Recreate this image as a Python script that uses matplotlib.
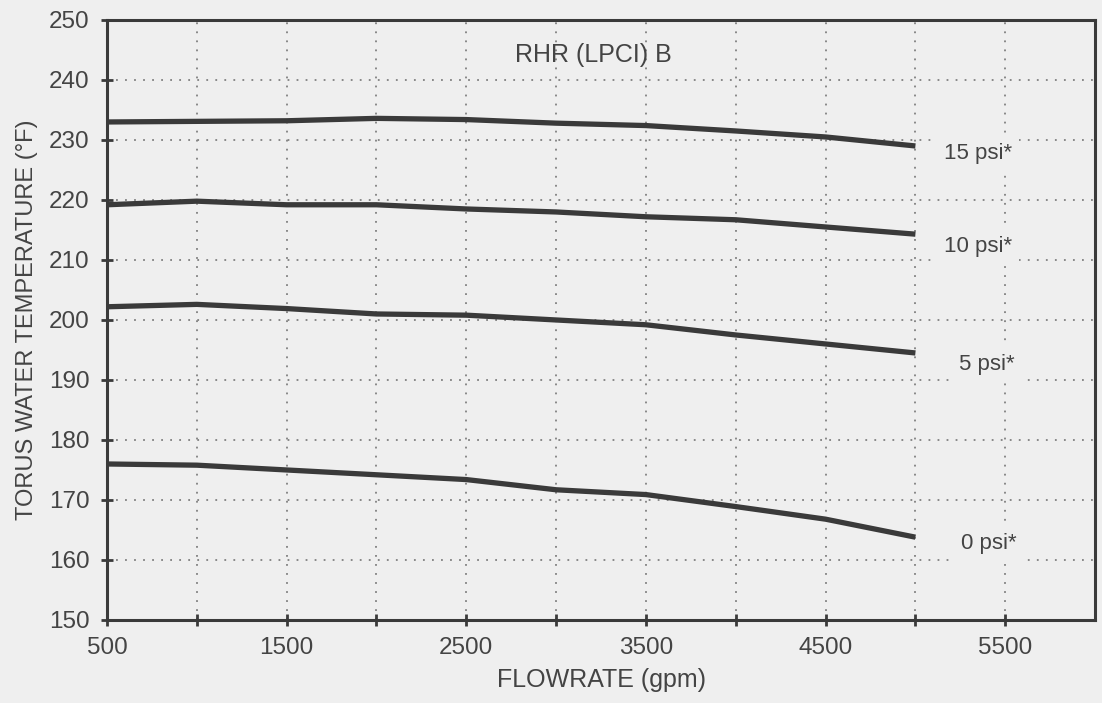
import matplotlib
matplotlib.use("Agg")
import matplotlib.pyplot as plt

# flowrate (gpm) and torus water temperature (F)
flow = [500, 1000, 1500, 2000, 2500, 3000, 3500, 4000, 4500, 5000]
temp_15psi = [233.0, 233.1, 233.2, 233.6, 233.4, 232.8, 232.4, 231.5, 230.5, 229.0]
temp_10psi = [219.2, 219.8, 219.2, 219.2, 218.5, 218.0, 217.2, 216.7, 215.5, 214.3]
temp_5psi = [202.2, 202.6, 201.9, 201.0, 200.8, 200.0, 199.2, 197.5, 196.0, 194.5]
temp_0psi = [176.0, 175.8, 175.0, 174.2, 173.4, 171.7, 170.9, 168.9, 166.8, 163.8]

series = [temp_15psi, temp_10psi, temp_5psi, temp_0psi]
labels = ["15 psi*", "10 psi*", "5 psi*", "0 psi*"]
label_x = [5160, 5160, 5240, 5255]
label_y = [227.8, 212.2, 192.6, 162.8]

xticks = [500, 1000, 1500, 2000, 2500, 3000, 3500, 4000, 4500, 5000, 5500]
xticklabels = ["500", "", "1500", "", "2500", "", "3500", "", "4500", "", "5500"]
yticks = list(range(150, 251, 10))

bg = "#efefef"
ink = "#3a3a3a"
txt = "#444444"

plt.rcParams["font.family"] = ["Liberation Sans", "DejaVu Sans"]

fig = plt.figure(figsize=(11.02, 7.03), dpi=100, facecolor=bg)
ax = fig.add_axes([0.0971, 0.1181, 0.8966, 0.8535], facecolor=bg)

for vals in series:
    ax.plot(flow, vals, color=ink, linewidth=3.8, solid_capstyle="butt")

# curve labels sit on a patch of background, breaking the grid like the original
for lab, lx, ly in zip(labels, label_x, label_y):
    ax.text(lx, ly, lab, fontsize=16, color=txt, ha="left", va="center",
            bbox=dict(facecolor=bg, edgecolor="none", pad=5))

ax.text(3207, 244.2, "RHR (LPCI) B", fontsize=18, color=txt, ha="center", va="center")

ax.set_xlim(500, 6000)
ax.set_ylim(150, 250)
ax.set_xticks(xticks)
ax.set_xticklabels(xticklabels)
ax.set_yticks(yticks)

ax.grid(True, color="#808080", linestyle=(0, (1, 4)), linewidth=1.3)
ax.set_axisbelow(True)

for s in ax.spines.values():
    s.set_color(ink)
    s.set_linewidth(2.2)

ax.tick_params(axis="both", direction="inout", length=9, width=2, color=ink,
               labelsize=17.5, labelcolor=txt, pad=8)

ax.set_xlabel("FLOWRATE (gpm)", fontsize=18, color=txt, labelpad=6)
ax.set_ylabel("TORUS WATER TEMPERATURE (\u00b0F)", fontsize=17, color=txt, labelpad=8)

fig.savefig("out.png", dpi=100, facecolor=bg)
